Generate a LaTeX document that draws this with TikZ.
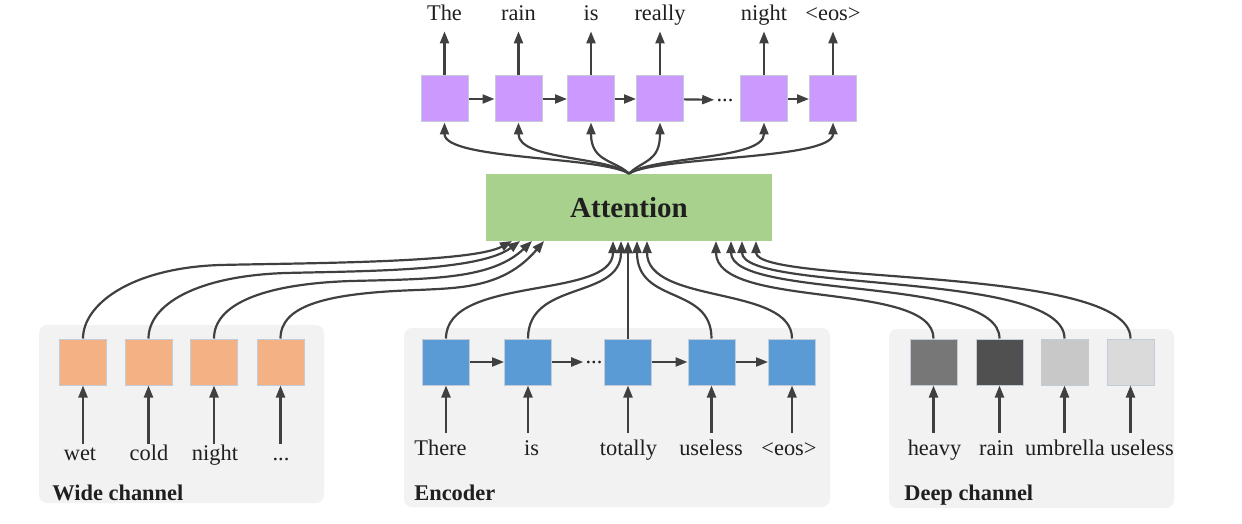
\documentclass[tikz,border=0pt]{standalone}
\usepackage{fontspec}
\setmainfont{Liberation Serif}
\usepackage{tikz}
\usetikzlibrary{arrows.meta}
\definecolor{decpurple}{HTML}{CC99FF}
\definecolor{wideorange}{HTML}{F4B183}
\definecolor{encblue}{HTML}{5B9BD5}
\definecolor{attgreen}{HTML}{A9D18E}
\definecolor{panelgray}{HTML}{F2F2F2}
\definecolor{linegray}{HTML}{404040}
\definecolor{cellline}{HTML}{C3CBD6}
\definecolor{deepA}{HTML}{777777}
\definecolor{deepB}{HTML}{505050}
\definecolor{deepC}{HTML}{C8C8C8}
\definecolor{deepD}{HTML}{DADADA}

\begin{document}
\begin{tikzpicture}[x=0.5pt,y=-0.5pt,
	cell/.style={draw=cellline, line width=0.5pt, minimum width=23.5pt, minimum height=23pt, inner sep=0pt},
	word/.style={font=\fontsize{11.2}{13}\selectfont, text=black!88, inner xsep=0pt, inner ysep=2pt, text height=9pt, text depth=3pt, anchor=base},
	title/.style={font=\fontsize{11.2}{13}\selectfont\bfseries, text=black!88, inner sep=0pt, anchor=base west},
	dots/.style={font=\fontsize{11.2}{13}\selectfont, text=black!88, inner sep=1pt},
	conn/.style={-{Triangle[length=6pt,width=4.5pt]}, color=linegray, line width=1.1pt},
	panel/.style={fill=panelgray, rounded corners=4pt}]
			\useasboundingbox (0,0) rectangle (1242,524);
			
			% Panels
			\fill[panel] (39,325) rectangle (324,503);
			\fill[panel] (404,328) rectangle (830,507);
			\fill[panel] (889,329) rectangle (1174,508);
			
			% Attention
			\node[fill=attgreen, minimum width=143pt, minimum height=33.5pt, inner sep=0pt, font=\fontsize{14.5}{17}\selectfont\bfseries, text=black!88] (att) at (629,207.5) {Attention};
			
			% Decoder
			\node[cell, fill=decpurple] (d1) at (444.5,99) {};
			\node[cell, fill=decpurple] (d2) at (518.5,99) {};
			\node[cell, fill=decpurple] (d3) at (591,99) {};
			\node[cell, fill=decpurple] (d4) at (660,99) {};
			\node[dots] (ddots) at (725,100) {...};
			\node[cell, fill=decpurple] (d5) at (764,99) {};
			\node[cell, fill=decpurple] (d6) at (833,99) {};
			
			\node[word] (t1) at (444.5,21) {The};
			\node[word] (t2) at (518.5,21) {rain};
			\node[word] (t3) at (591,21) {is};
			\node[word] (t4) at (660,21) {really};
			\node[word] (t5) at (764,21) {night};
			\node[word] (t6) at (833,21) {<eos>};
			
			% Wide channel
			\node[cell, fill=wideorange] (w1) at (83,362) {};
			\node[cell, fill=wideorange] (w2) at (148.5,362) {};
			\node[cell, fill=wideorange] (w3) at (214,362) {};
			\node[cell, fill=wideorange] (w4) at (280.5,362) {};
			
			\node[word] (wl1) at (80,460) {wet};
			\node[word] (wl2) at (149,460) {cold};
			\node[word] (wl3) at (215,460) {night};
			\node[word] (wl4) at (281,460) {...};
			\node[title] (wt) at (52,500) {Wide channel};
			
			% Encoder
			\node[cell, fill=encblue] (e1) at (446,362) {};
			\node[cell, fill=encblue] (e2) at (528,362) {};
			\node[dots] (edots) at (594,362) {...};
			\node[cell, fill=encblue] (e3) at (628,362) {};
			\node[cell, fill=encblue] (e4) at (711.5,362) {};
			\node[cell, fill=encblue] (e5) at (792,362) {};
			
			\node[word] (el1) at (440.5,455) {There};
			\node[word] (el2) at (531.5,455) {is};
			\node[word] (el3) at (628.5,455) {totally};
			\node[word] (el4) at (711,455) {useless};
			\node[word] (el5) at (789,455) {<eos>};
			\node[title] (et) at (414,500) {Encoder};
			
			% Deep channel
			\node[cell, fill=deepA] (p1) at (933.5,362) {};
			\node[cell, fill=deepB] (p2) at (999.5,362) {};
			\node[cell, fill=deepC] (p3) at (1064.5,362) {};
			\node[cell, fill=deepD] (p4) at (1130.5,362) {};
			
			\node[word] (pl1) at (934.5,455) {heavy};
			\node[word] (pl2) at (996.5,455) {rain};
			\node[word] (pl3) at (1065,455) {umbrella};
			\node[word] (pl4) at (1142,455) {useless};
			\node[title] (pt) at (904,500) {Deep channel};
			
			% Inputs into attention
			\coordinate (aw1) at (512,241);
			\coordinate (aw2) at (520,241);
			\coordinate (aw3) at (532,241);
			\coordinate (aw4) at (544,241);
			\coordinate (ae1) at (613,241);
			\coordinate (ae2) at (621,241);
			\coordinate (ae4) at (637,241);
			\coordinate (ae5) at (647,241);
			\coordinate (ap1) at (716,241);
			\coordinate (ap2) at (731,241);
			\coordinate (ap3) at (742,241);
			\coordinate (ap4) at (756,241);
			
			% Straight arrows
			\path[conn]
			(d1) edge (t1) (d2) edge (t2) (d3) edge (t3)
			(d4) edge (t4) (d5) edge (t5) (d6) edge (t6)
			(d1) edge (d2) (d2) edge (d3) (d3) edge (d4)
			(d4) edge (ddots) (d5) edge (d6)
			(e1) edge (e2) (e2) edge (edots)
			(e3) edge (e4) (e4) edge (e5)
			(e3) edge (e3 |- att.south);
			
			\path[conn, shorten <=-3pt]
			(wl1.north -| w1) edge (w1) (wl2.north -| w2) edge (w2)
			(wl3.north -| w3) edge (w3) (wl4.north -| w4) edge (w4);
			
			\path[conn]
			(el1.north -| e1) edge (e1) (el2.north -| e2) edge (e2)
			(el3.north -| e3) edge (e3) (el4.north -| e4) edge (e4)
			(el5.north -| e5) edge (e5)
			(pl1.north -| p1) edge (p1) (pl2.north -| p2) edge (p2)
			(pl3.north -| p3) edge (p3) (pl4.north -| p4) edge (p4);
			
			% Attention to decoder
			\draw[conn] (att.north) .. controls (600,156) and (444.5,160) .. (d1.south);
			\draw[conn] (att.north) .. controls (605,156) and (518.5,160) .. (d2.south);
			\draw[conn] (att.north) .. controls (615,160) and (591,162) .. (d3.south);
			\draw[conn] (att.north) .. controls (643,160) and (660,162) .. (d4.south);
			\draw[conn] (att.north) .. controls (653,156) and (764,160) .. (d5.south);
			\draw[conn] (att.north) .. controls (658,156) and (833,160) .. (d6.south);
			
			% Wide channel to attention
			\draw[conn] (w1.north) .. controls (83,305) and (130,268) .. (220,265) .. controls (303,263) and (472,263) .. (aw1);
			\draw[conn] (w2.north) .. controls (148.5,305) and (195.5,276) .. (285.5,273) .. controls (368.5,271) and (480,271) .. (aw2);
			\draw[conn] (w3.north) .. controls (214,305) and (261,284) .. (351,281) .. controls (434,279) and (492,279) .. (aw3);
			\draw[conn] (w4.north) .. controls (280.5,305) and (327.5,293) .. (417.5,290) .. controls (460,288) and (504,288) .. (aw4);
			
			% Encoder to attention
			\draw[conn] (e1.north) .. controls (446,275) and (613,300) .. (ae1);
			\draw[conn] (e2.north) .. controls (528,280) and (621,300) .. (ae2);
			\draw[conn] (e4.north) .. controls (711.5,285) and (637,305) .. (ae4);
			\draw[conn] (e5.north) .. controls (792,285) and (647,305) .. (ae5);
			
			% Deep channel to attention
			\draw[conn] (p1.north) .. controls (933.5,280) and (716,310) .. (ap1);
			\draw[conn] (p2.north) .. controls (999.5,275) and (731,300) .. (ap2);
			\draw[conn] (p3.north) .. controls (1064.5,270) and (742,293) .. (ap3);
			\draw[conn] (p4.north) .. controls (1130.5,265) and (756,285) .. (ap4);
			
\end{tikzpicture}
\end{document}
